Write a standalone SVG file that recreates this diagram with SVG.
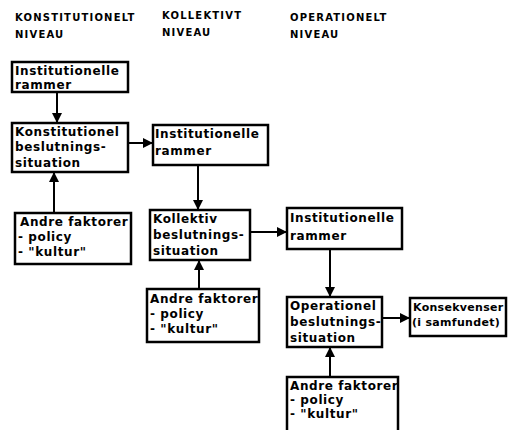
<svg xmlns="http://www.w3.org/2000/svg" width="508" height="430" viewBox="0 0 508 430">
<style>
.box{fill:#fff;stroke:#000;stroke-width:2.5}
.t{font-family:"DejaVu Sans",sans-serif;font-weight:bold;font-size:12px;letter-spacing:0.6px;fill:#000}
.n{font-size:11px;letter-spacing:0.3px}
.h{font-family:"DejaVu Sans",sans-serif;font-weight:bold;font-size:10px;letter-spacing:1.2px;fill:#000}
.c{stroke:#000;stroke-width:2;fill:none;marker-end:url(#ah)}
</style>
<defs>
<marker id="ah" markerUnits="userSpaceOnUse" markerWidth="11" markerHeight="10" refX="10" refY="5" orient="auto">
<path d="M0,0 L10,5 L0,10 z" fill="#000"/>
</marker>
</defs>
<rect width="508" height="430" fill="#fff"/>
<g id="headers">
<text class="h" x="15" y="21">KONSTITUTIONELT</text>
<text class="h" x="15" y="38">NIVEAU</text>
<text class="h" x="162" y="19">KOLLEKTIVT</text>
<text class="h" x="162" y="36">NIVEAU</text>
<text class="h" x="290" y="21">OPERATIONELT</text>
<text class="h" x="290" y="38">NIVEAU</text>
</g>
<g id="connectors">
<line class="c" x1="57" y1="92" x2="57" y2="123"/>
<line class="c" x1="128" y1="143" x2="153" y2="143"/>
<line class="c" x1="54" y1="213" x2="54" y2="172"/>
<line class="c" x1="198" y1="165" x2="198" y2="210"/>
<line class="c" x1="250" y1="232" x2="287" y2="232"/>
<line class="c" x1="199" y1="289" x2="199" y2="260"/>
<line class="c" x1="330" y1="249" x2="330" y2="297"/>
<line class="c" x1="382" y1="318" x2="410" y2="318"/>
<line class="c" x1="330" y1="377" x2="330" y2="347"/>
</g>
<g id="n1">
<rect class="box" x="12" y="62" width="116" height="30"/>
<text class="t" x="15" y="75">Institutionelle</text>
<text class="t" x="15" y="89">rammer</text>
</g>
<g id="n2">
<rect class="box" x="12" y="123" width="116" height="49"/>
<text class="t" x="15" y="136">Konstitutionel</text>
<text class="t" x="15" y="151">beslutnings-</text>
<text class="t" x="15" y="167">situation</text>
</g>
<g id="n3">
<rect class="box" x="153" y="125" width="115" height="40"/>
<text class="t" x="155" y="138">Institutionelle</text>
<text class="t" x="155" y="155">rammer</text>
</g>
<g id="n4">
<rect class="box" x="15" y="213" width="116" height="51"/>
<text class="t" x="20" y="226">Andre faktorer</text>
<text class="t" x="18" y="241">- policy</text>
<text class="t" x="18" y="256">- "kultur"</text>
</g>
<g id="n5">
<rect class="box" x="150" y="210" width="100" height="50"/>
<text class="t" x="153" y="223">Kollektiv</text>
<text class="t" x="153" y="239">beslutnings-</text>
<text class="t" x="153" y="255">situation</text>
</g>
<g id="n6">
<rect class="box" x="287" y="208" width="115" height="41"/>
<text class="t" x="290" y="222">Institutionelle</text>
<text class="t" x="290" y="240">rammer</text>
</g>
<g id="n7">
<rect class="box" x="147" y="289" width="112" height="53"/>
<text class="t" x="150" y="303">Andre faktorer</text>
<text class="t" x="150" y="318">- policy</text>
<text class="t" x="150" y="333">- "kultur"</text>
</g>
<g id="n8">
<rect class="box" x="287" y="297" width="95" height="50"/>
<text class="t" x="290" y="310">Operationel</text>
<text class="t" x="290" y="326">beslutnings-</text>
<text class="t" x="290" y="342">situation</text>
</g>
<g id="n9">
<rect class="box" x="410" y="298" width="96" height="38"/>
<text class="t n" x="413" y="311">Konsekvenser</text>
<text class="t n" x="412" y="326">(i samfundet)</text>
</g>
<g id="n10">
<rect class="box" x="287" y="377" width="111" height="70"/>
<text class="t" x="290" y="390">Andre faktorer</text>
<text class="t" x="290" y="404">- policy</text>
<text class="t" x="290" y="418">- "kultur"</text>
</g>
</svg>
